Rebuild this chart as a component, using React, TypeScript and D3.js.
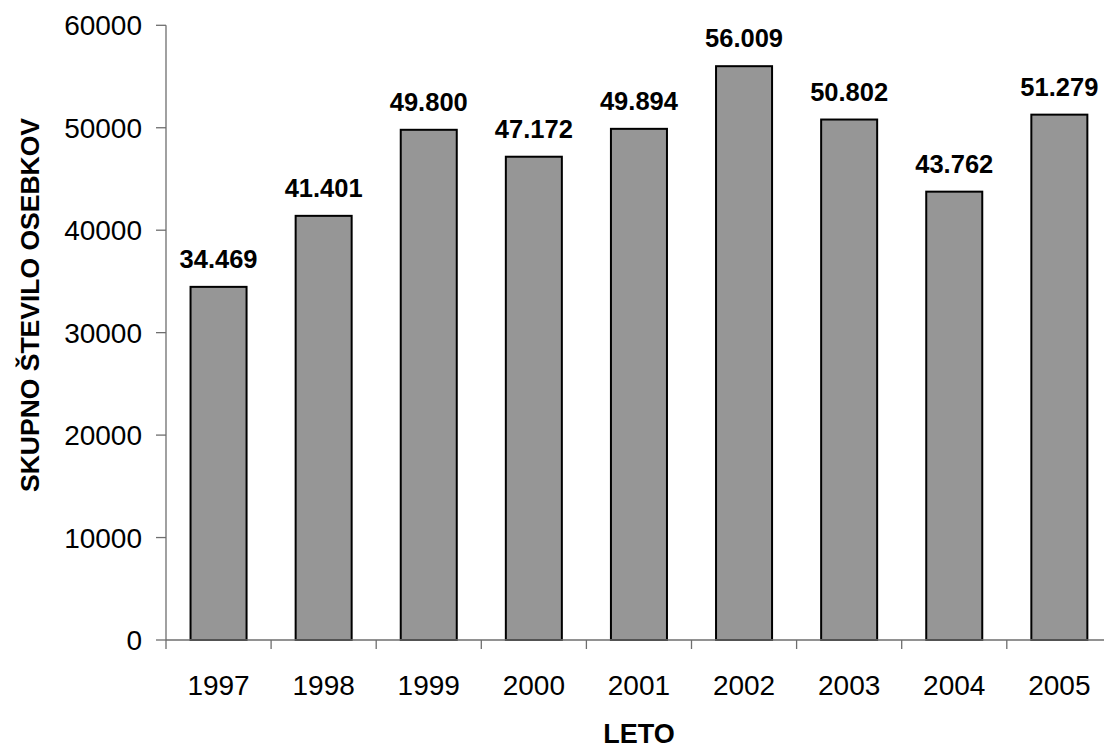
import React from "react";
import * as d3 from "d3";

// Total number of individuals per year
const years: string[] = ["1997", "1998", "1999", "2000", "2001", "2002", "2003", "2004", "2005"];
const totals: number[] = [34469, 41401, 49800, 47172, 49894, 56009, 50802, 43762, 51279];
const yTicks: number[] = [0, 10000, 20000, 30000, 40000, 50000, 60000];

const W = 1104;
const H = 749;
const FONT = "Arial, 'Liberation Sans', Helvetica, sans-serif";

const slLocale = d3.formatLocale({ decimal: ",", thousands: ".", grouping: [3], currency: ["", " €"] });
const fmtValue = slLocale.format(",d");

export default function App() {
  const x0 = 166;
  const band = 105.1;
  const x = d3
    .scaleBand<string>()
    .domain(years)
    .range([x0, x0 + band * years.length])
    .paddingInner(0.467)
    .paddingOuter(0.2335);
  const y = d3.scaleLinear().domain([0, 60000]).range([640, 25.3]);

  const axisColor = "#6e6e6e";
  const boundaries = d3.range(years.length + 1).map((i) => x0 + i * x.step());

  return (
    <svg
      width={W}
      height={H}
      style={{ position: "absolute", left: 0, top: 0, background: "#fff" }}
      fontFamily={FONT}
    >
      {/* bars */}
      {years.map((yr, i) => (
        <rect
          key={yr}
          x={x(yr)!}
          y={y(totals[i])}
          width={x.bandwidth()}
          height={y(0) - y(totals[i])}
          fill="#969696"
          stroke="#000"
          strokeWidth={2}
        />
      ))}

      {/* value labels */}
      {years.map((yr, i) => (
        <text
          key={"v" + yr}
          x={x(yr)! + x.bandwidth() / 2}
          y={y(totals[i]) - 19}
          textAnchor="middle"
          fontSize={25.5}
          fontWeight="bold"
          fill="#000"
        >
          {fmtValue(totals[i])}
        </text>
      ))}

      {/* y axis */}
      <line x1={x0} x2={x0} y1={y(60000)} y2={y(0)} stroke={axisColor} strokeWidth={1.3} />
      {yTicks.map((t) => (
        <g key={"yt" + t}>
          <line x1={x0 - 10} x2={x0} y1={y(t)} y2={y(t)} stroke={axisColor} strokeWidth={1.3} />
          <text x={x0 - 24} y={y(t)} dy="0.36em" textAnchor="end" fontSize={28} fill="#000">
            {t}
          </text>
        </g>
      ))}

      {/* x axis */}
      <line x1={x0} x2={W + 20} y1={y(0)} y2={y(0)} stroke={axisColor} strokeWidth={1.3} />
      {boundaries.map((bx, i) => (
        <line key={"xt" + i} x1={bx} x2={bx} y1={y(0)} y2={y(0) + 9} stroke={axisColor} strokeWidth={1.3} />
      ))}
      {years.map((yr) => (
        <text
          key={"xl" + yr}
          x={x(yr)! + x.bandwidth() / 2}
          y={695}
          textAnchor="middle"
          fontSize={28}
          fill="#000"
        >
          {yr}
        </text>
      ))}

      {/* axis titles */}
      <text x={(x0 + x0 + band * years.length) / 2} y={743} textAnchor="middle" fontSize={27} fontWeight="bold" fill="#000">
        LETO
      </text>
      <text
        transform={`translate(39, 305) rotate(-90)`}
        textAnchor="middle"
        fontSize={26.5}
        fontWeight="bold"
        fill="#000"
      >
        SKUPNO ŠTEVILO OSEBKOV
      </text>
    </svg>
  );
}
